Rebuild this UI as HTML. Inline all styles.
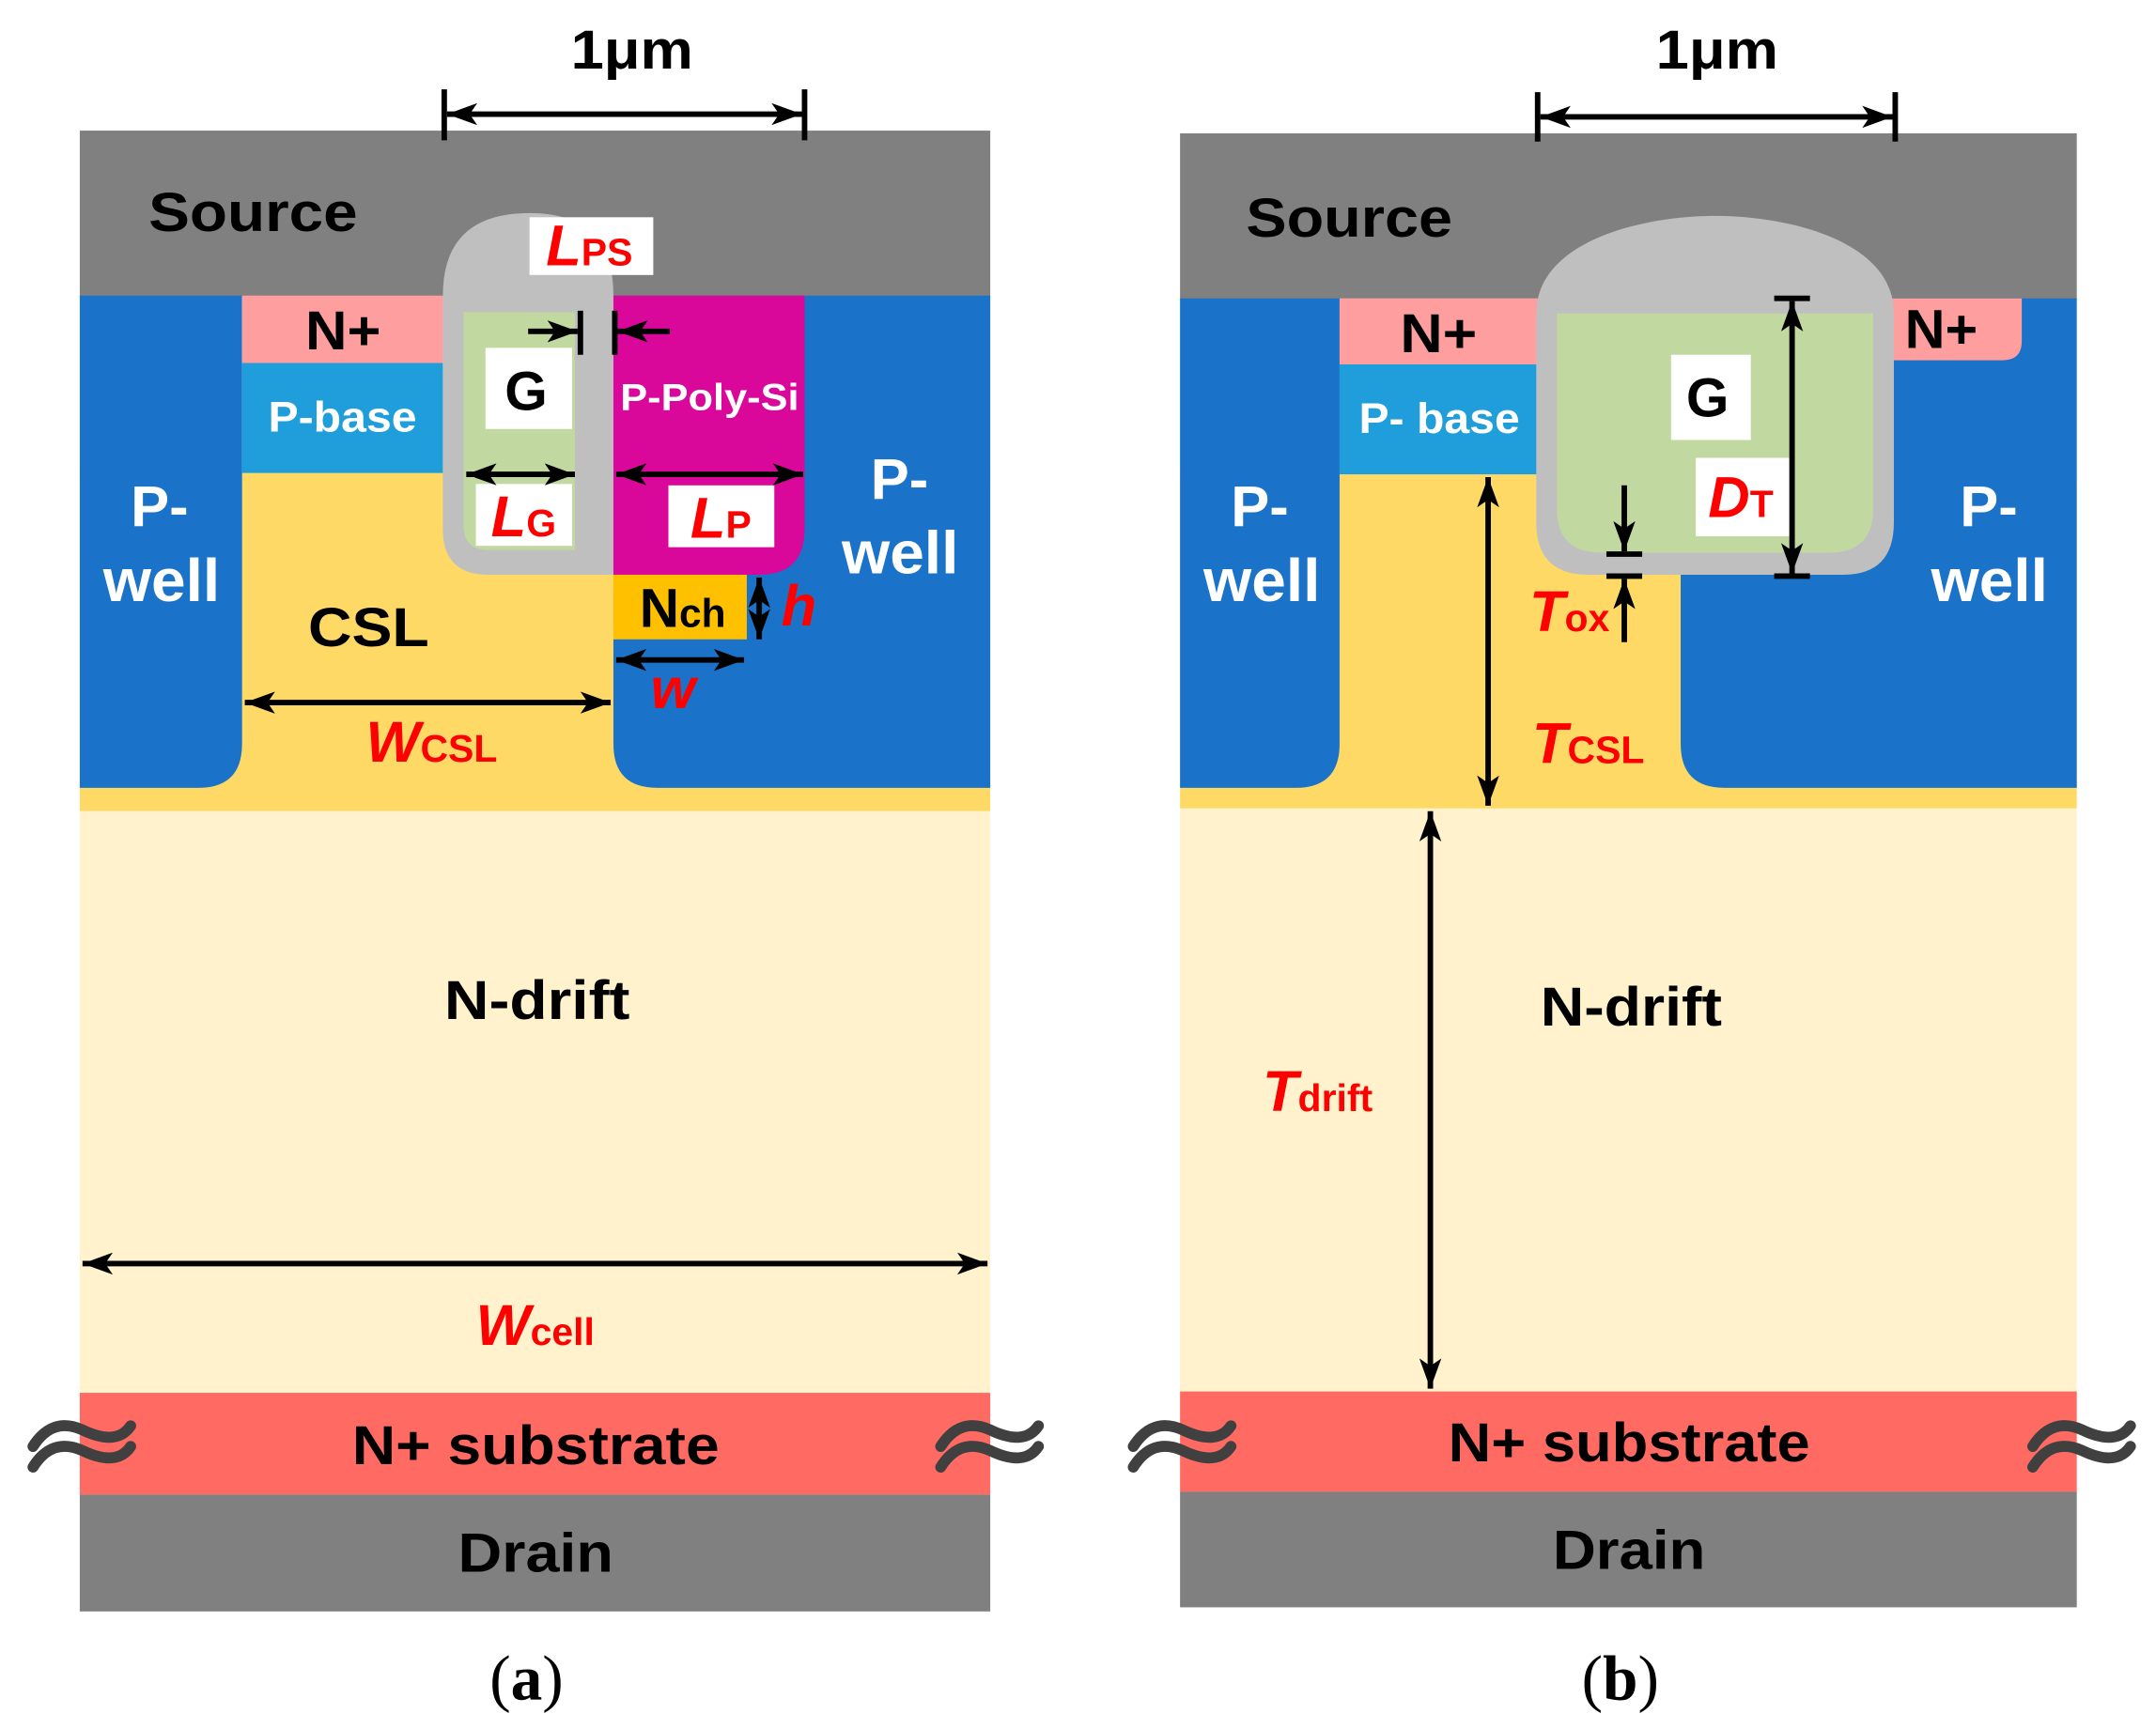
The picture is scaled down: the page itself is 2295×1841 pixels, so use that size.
<!DOCTYPE html>
<html><head><meta charset="utf-8"><style>html,body{margin:0;padding:0;background:#fff}svg{display:block}</style></head>
<body>
<svg xmlns="http://www.w3.org/2000/svg" width="2295" height="1841" viewBox="0 0 1567.6 1257.5" preserveAspectRatio="none" font-family="Liberation Sans, Arial, sans-serif" font-weight="bold">
<defs>
<marker id="a2" viewBox="0 0 10 10" refX="10" refY="5" markerWidth="22" markerHeight="16" markerUnits="userSpaceOnUse" orient="auto-start-reverse" preserveAspectRatio="none">
<path d="M0,0 L10,5 L0,10 L2.5,5 Z" fill="#000"/></marker>
</defs>
<style>
.b{fill:#000;font-size:40px}
.w{fill:#fff}
.r{fill:#f00;font-style:italic;font-size:42px}
.rs{fill:#f00;font-style:normal;font-size:28px}
.ln{stroke:#000;stroke-width:4;fill:none}
</style>

<!-- ================= PANEL A ================= -->
<rect x="58" y="343" width="662" height="247" fill="#ffd966"/>
<rect x="58" y="590" width="662" height="423" fill="#fff2cc"/>
<rect x="58" y="1013" width="662" height="74" fill="#ff6a63"/>
<rect x="58" y="1087" width="662" height="85" fill="#808080"/>
<rect x="58" y="95" width="662" height="121" fill="#808080"/>
<path d="M58,215 H176 V541 Q176,573 144,573 H58 Z" fill="#1a73c8"/>
<path d="M446,215 H720 V573 H478 Q446,573 446,541 Z" fill="#1a73c8"/>
<rect x="176" y="215" width="146" height="49" fill="#ff9e9e"/>
<rect x="176" y="264" width="146" height="80" fill="#1f9edb"/>
<path d="M322,418 V215 Q322,155 385,155 Q446,155 446,215 V418 H355 Q322,418 322,385 Z" fill="#bfbfbf"/>
<path d="M337,227 H418 V400 H355 Q337,400 337,382 Z" fill="#c1d8a1"/>
<path d="M446,215 H585 V385 Q585,418 552,418 H446 Z" fill="#d9089a"/>
<rect x="446" y="418" width="97" height="47" fill="#ffc000"/>

<text x="108" y="168" class="b" font-size="46" textLength="152" lengthAdjust="spacingAndGlyphs">Source</text>
<text x="222" y="254" class="b" font-size="40" textLength="55" lengthAdjust="spacingAndGlyphs">N+</text>
<text x="195" y="314" class="w" font-size="31" textLength="108" lengthAdjust="spacingAndGlyphs">P-base</text>
<text x="95" y="383" class="w" font-size="42">P-</text>
<text x="75" y="437" class="w" font-size="44" textLength="85" lengthAdjust="spacingAndGlyphs">well</text>
<text x="633" y="363" class="w" font-size="42">P-</text>
<text x="612" y="417" class="w" font-size="44" textLength="85" lengthAdjust="spacingAndGlyphs">well</text>
<text x="224" y="470" class="b" font-size="43" textLength="88" lengthAdjust="spacingAndGlyphs">CSL</text>
<text x="451" y="298" class="w" font-size="27" textLength="130" lengthAdjust="spacingAndGlyphs">P-Poly-Si</text>
<rect x="353" y="253" width="63" height="59" fill="#fff"/>
<text x="367" y="298" class="b" font-size="42">G</text>
<text x="465" y="456" class="b" font-size="42">N<tspan font-size="29">ch</tspan></text>

<rect x="385" y="158" width="90" height="42" fill="#fff"/>
<text x="397" y="193" class="r">L<tspan class="rs">PS</tspan></text>
<rect x="346" y="352" width="70" height="45" fill="#fff"/>
<text x="357" y="390" class="r">L<tspan class="rs">G</tspan></text>
<rect x="486" y="353" width="77" height="45" fill="#fff"/>
<text x="502" y="391" class="r">L<tspan class="rs">P</tspan></text>
<text x="568" y="455" class="r">h</text>
<text x="473" y="515" class="r">w</text>
<text x="266" y="554" class="r">W<tspan class="rs">CSL</tspan></text>
<text x="346" y="978" class="r">W<tspan class="rs">cell</tspan></text>

<text x="323" y="741" class="b" font-size="46" textLength="135" lengthAdjust="spacingAndGlyphs">N-drift</text>
<text x="256" y="1065" class="b" font-size="46" textLength="267" lengthAdjust="spacingAndGlyphs">N+ substrate</text>
<text x="333" y="1143" class="b" font-size="45" textLength="113" lengthAdjust="spacingAndGlyphs">Drain</text>
<text x="356" y="1236" font-family="Liberation Serif, serif" font-weight="normal" font-size="46" fill="#000">(<tspan font-weight="bold">a</tspan>)</text>

<text x="415" y="50" class="b" font-size="42" textLength="89" lengthAdjust="spacingAndGlyphs">1μm</text>
<line x1="323" y1="65" x2="323" y2="102" class="ln"/>
<line x1="585" y1="65" x2="585" y2="102" class="ln"/>
<line x1="325" y1="83" x2="583" y2="83" class="ln" marker-start="url(#a2)" marker-end="url(#a2)"/>
<line x1="422" y1="226" x2="422" y2="258" class="ln"/>
<line x1="447" y1="226" x2="447" y2="258" class="ln"/>
<line x1="384" y1="241" x2="420" y2="241" class="ln" marker-end="url(#a2)"/>
<line x1="487" y1="241" x2="449" y2="241" class="ln" marker-end="url(#a2)"/>
<line x1="339" y1="345" x2="418" y2="345" class="ln" marker-start="url(#a2)" marker-end="url(#a2)"/>
<line x1="448" y1="345" x2="584" y2="345" class="ln" marker-start="url(#a2)" marker-end="url(#a2)"/>
<line x1="552" y1="420" x2="552" y2="465" class="ln" marker-start="url(#a2)" marker-end="url(#a2)"/>
<line x1="448" y1="480" x2="541" y2="480" class="ln" marker-start="url(#a2)" marker-end="url(#a2)"/>
<line x1="178" y1="511" x2="444" y2="511" class="ln" marker-start="url(#a2)" marker-end="url(#a2)"/>
<line x1="60" y1="919" x2="718" y2="919" class="ln" marker-start="url(#a2)" marker-end="url(#a2)"/>

<!-- ================= PANEL B ================= -->
<rect x="858" y="345" width="652" height="243" fill="#ffd966"/>
<rect x="858" y="588" width="652" height="424" fill="#fff2cc"/>
<rect x="858" y="1012" width="652" height="73" fill="#ff6a63"/>
<rect x="858" y="1085" width="652" height="84" fill="#808080"/>
<rect x="858" y="97" width="652" height="121" fill="#808080"/>
<path d="M858,217 H974 V541 Q974,573 942,573 H858 Z" fill="#1a73c8"/>
<path d="M1222,217 H1510 V573 H1254 Q1222,573 1222,541 Z" fill="#1a73c8"/>
<rect x="974" y="217" width="145" height="48" fill="#ff9e9e"/>
<path d="M1370,217 H1470 V248 Q1470,262 1456,262 H1370 Z" fill="#ff9e9e"/>
<rect x="974" y="265" width="145" height="80" fill="#1f9edb"/>
<path d="M1117,228 C1117,175 1195,157 1247,157 C1300,157 1377,175 1377,228 V380 Q1377,418 1340,418 H1155 Q1117,418 1117,380 Z" fill="#bfbfbf"/>
<path d="M1132,228 H1362 V370 Q1362,402 1330,402 H1164 Q1132,402 1132,370 Z" fill="#c1d8a1"/>

<text x="906" y="172" class="b" font-size="46" textLength="150" lengthAdjust="spacingAndGlyphs">Source</text>
<text x="1018" y="256" class="b" font-size="40" textLength="56" lengthAdjust="spacingAndGlyphs">N+</text>
<text x="1385" y="253" class="b" font-size="40" textLength="53" lengthAdjust="spacingAndGlyphs">N+</text>
<text x="988" y="315" class="w" font-size="31" textLength="117" lengthAdjust="spacingAndGlyphs">P- base</text>
<text x="895" y="383" class="w" font-size="42">P-</text>
<text x="875" y="437" class="w" font-size="44" textLength="85" lengthAdjust="spacingAndGlyphs">well</text>
<text x="1425" y="383" class="w" font-size="42">P-</text>
<text x="1404" y="437" class="w" font-size="44" textLength="85" lengthAdjust="spacingAndGlyphs">well</text>
<rect x="1215" y="258" width="58" height="62" fill="#fff"/>
<text x="1226" y="303" class="b" font-size="42">G</text>
<rect x="1233" y="333" width="68" height="57" fill="#fff"/>
<text x="1242" y="376" class="r">D<tspan class="rs">T</tspan></text>
<text x="1112" y="459" class="r">T<tspan class="rs">ox</tspan></text>
<text x="1114" y="555" class="r">T<tspan class="rs">CSL</tspan></text>
<text x="918" y="808" class="r">T<tspan class="rs">drift</tspan></text>
<text x="1120" y="746" class="b" font-size="46" textLength="132" lengthAdjust="spacingAndGlyphs">N-drift</text>
<text x="1053" y="1063" class="b" font-size="46" textLength="263" lengthAdjust="spacingAndGlyphs">N+ substrate</text>
<text x="1129" y="1141" class="b" font-size="45" textLength="111" lengthAdjust="spacingAndGlyphs">Drain</text>
<text x="1150" y="1236" font-family="Liberation Serif, serif" font-weight="normal" font-size="46" fill="#000">(<tspan font-weight="bold">b</tspan>)</text>

<text x="1204" y="50" class="b" font-size="42" textLength="89" lengthAdjust="spacingAndGlyphs">1μm</text>
<line x1="1118" y1="67" x2="1118" y2="103" class="ln"/>
<line x1="1378" y1="67" x2="1378" y2="103" class="ln"/>
<line x1="1120" y1="85" x2="1376" y2="85" class="ln" marker-start="url(#a2)" marker-end="url(#a2)"/>
<line x1="1290" y1="217" x2="1316" y2="217" class="ln"/>
<line x1="1290" y1="419" x2="1316" y2="419" class="ln"/>
<line x1="1303" y1="219" x2="1303" y2="417" class="ln" marker-start="url(#a2)" marker-end="url(#a2)"/>
<line x1="1168" y1="403" x2="1194" y2="403" class="ln"/>
<line x1="1168" y1="419" x2="1194" y2="419" class="ln"/>
<line x1="1181" y1="353" x2="1181" y2="401" class="ln" marker-end="url(#a2)"/>
<line x1="1181" y1="467" x2="1181" y2="421" class="ln" marker-end="url(#a2)"/>
<line x1="1082" y1="347" x2="1082" y2="586" class="ln" marker-start="url(#a2)" marker-end="url(#a2)"/>
<line x1="1040" y1="590" x2="1040" y2="1010" class="ln" marker-start="url(#a2)" marker-end="url(#a2)"/>

<g stroke="#404040" stroke-width="8" fill="none" stroke-linecap="round">
<path d="M24,1052 Q38,1030 60,1040 Q85,1052 95,1037"/><path d="M24,1067 Q38,1045 60,1055 Q85,1067 95,1052"/>
<path d="M684,1052 Q698,1030 720,1040 Q745,1052 755,1037"/><path d="M684,1067 Q698,1045 720,1055 Q745,1067 755,1052"/>
<path d="M824,1052 Q838,1030 860,1040 Q885,1052 895,1037"/><path d="M824,1067 Q838,1045 860,1055 Q885,1067 895,1052"/>
<path d="M1478,1052 Q1492,1030 1514,1040 Q1539,1052 1549,1037"/><path d="M1478,1067 Q1492,1045 1514,1055 Q1539,1067 1549,1052"/>
</g>
</svg>
</body></html>
